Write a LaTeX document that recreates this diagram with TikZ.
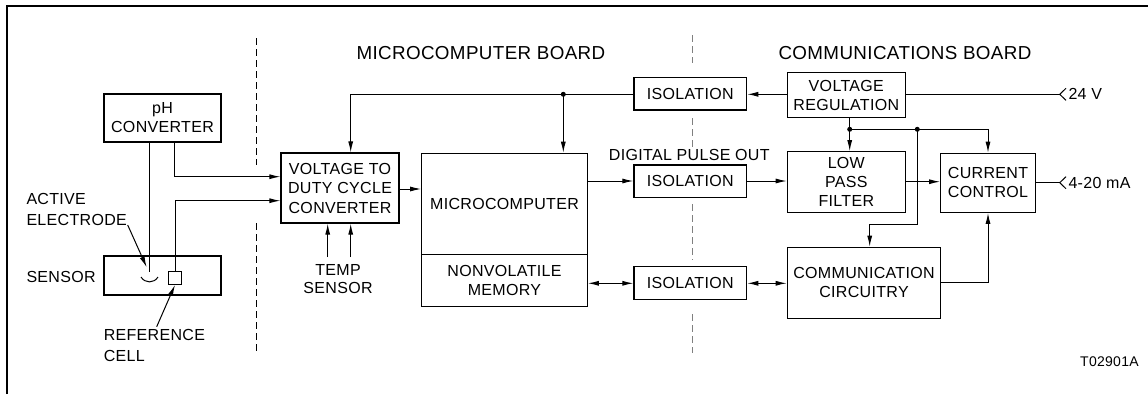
\documentclass[tikz,border=0pt]{standalone}
\usepackage{fontspec}
\setmainfont{Liberation Sans}[LetterSpace=2]
\usetikzlibrary{arrows.meta,calc}
\begin{document}
\begin{tikzpicture}[x=1pt,y=-1pt,
  line width=1pt,
  box/.style={draw, line width=1.2pt, inner sep=0pt, align=center, font=\fontsize{16}{19}\selectfont},
  lbl/.style={inner sep=0pt, align=left, font=\fontsize{16}{20.5}\selectfont},
  hdr/.style={inner sep=0pt, font=\fontsize{18.8}{22}\selectfont},
  arr/.style={-{Latex[length=11pt,width=5pt]}},
  darr/.style={{Latex[length=11pt,width=5pt]}-{Latex[length=11pt,width=5pt]}},
  divider/.style={dash pattern=on 7pt off 4pt, line width=1pt},
  dot/.style={circle, fill, inner sep=0pt, minimum size=5pt}
]
\useasboundingbox (0,0) rectangle (1148,394);
% frame
\draw[line width=1.3pt] (7,394) -- (7,6) -- (1148,6);

% boxes
\node[box, minimum width=117pt, minimum height=48pt] (phconv) at (162.5,118) {pH\\CONVERTER};
\node[box, minimum width=117pt, minimum height=39pt] (sensor) at (162.5,275.5) {};
\node[box, minimum width=118pt, minimum height=70pt, font=\fontsize{16}{19.5}\selectfont] (vdc) at (340,188) {VOLTAGE TO\\DUTY CYCLE\\CONVERTER};
\node[box, minimum width=165.6pt, minimum height=101pt] (micro) at (504.5,203.8) {MICROCOMPUTER};
\node[box, minimum width=165.6pt, minimum height=52pt] (nvm) at (504.5,280.3) {NONVOLATILE\\MEMORY};
\node[box, minimum width=112.7pt, minimum height=32.3pt] (iso1) at (690.3,93.8) {ISOLATION};
\node[box, minimum width=112.7pt, minimum height=32.3pt] (iso2) at (690.3,181.2) {ISOLATION};
\node[box, minimum width=112.7pt, minimum height=32.3pt] (iso3) at (690.3,283) {ISOLATION};
\node[box, minimum width=118pt, minimum height=45.4pt] (vreg) at (846.3,95) {VOLTAGE\\REGULATION};
\node[box, minimum width=118pt, minimum height=60.6pt] (lpf) at (846.3,182) {LOW\\PASS\\FILTER};
\node[box, minimum width=94.6pt, minimum height=59pt] (cc) at (988,182.8) {CURRENT\\CONTROL};
\node[box, minimum width=153.4pt, minimum height=71pt] (comm) at (864,282.8) {COMMUNICATION\\CIRCUITRY};

% sensor internals
\node[draw, line width=1.1pt, minimum size=12.6pt, inner sep=0pt] (refcell) at (175,278) {};
\coordinate (electrode) at (149.7,272);
\draw (141,277) .. controls (145,283.5) and (154,283.5) .. (158,277);

% labels
\node[hdr, anchor=west] (hmicro) at (356,53.3) {MICROCOMPUTER BOARD};
\node[hdr, anchor=west] (hcomm) at (778,53.3) {COMMUNICATIONS BOARD};
\node[lbl] (dpo) at (689.3,155) {DIGITAL PULSE OUT};
\node[lbl, anchor=west] (lactive) at (26,209.7) {ACTIVE\\ELECTRODE};
\node[lbl, anchor=west] (lsensor) at (26,277) {SENSOR};
\node[lbl, anchor=west] (lref) at (103.3,345.7) {REFERENCE\\CELL};
\node[lbl, align=center, font=\fontsize{16}{18.5}\selectfont] (ltemp) at (338,279) {TEMP\\SENSOR};
\node[lbl, anchor=west] (l24) at (1068,94.3) {24 V};
\node[lbl, anchor=west] (l420) at (1068,182.7) {4-20 mA};
\node[inner sep=0pt, anchor=west, font=\fontsize{14}{16}\selectfont] (tag) at (1079.7,361.7) {T02901A};

% dividers
\draw[divider] (256.7,38) -- (256.7,165);
\draw[divider] (256.7,223) -- (256.7,353);
\draw[divider, gray] (692.7,35) -- (692.7,63.3);
\draw[divider, gray] (692.7,118.3) -- (692.7,146.7);
\draw[divider, gray] (692.7,204) -- (692.7,259.3);
\draw[divider, gray] (692.7,314) -- (692.7,353.3);

% sensor side connections
\coordinate (activetail) at (127.7,225);
\coordinate (reftail) at (156.7,326.7);
\draw[arr] (phconv.south -| 174.3,0) |- (vdc.west |- 0,176.7);
\draw (phconv.south -| electrode) -- (electrode);
\draw[arr] (refcell.north) |- (vdc.west |- 0,200.7);
\draw[arr] (activetail) -- (146.7,267.3);
\draw[arr] (reftail) -- (refcell.south);
\draw[arr] (327.7,257) -- (vdc.south -| 327.7,0);
\draw[arr] (350.7,257) -- (vdc.south -| 350.7,0);

% top supply line
\coordinate (j1) at (563.3,94.3);
\draw[arr] (vreg.west |- 0,94.3) -- (iso1.east |- 0,94.3);
\draw[arr] (iso1.west |- 0,94.3) -- (350.7,94.3) -- (vdc.north -| 350.7,0);
\draw[arr] (j1) -- (micro.north -| j1);
\node[dot] at (j1) {};

% data paths
\draw[arr] (vdc.east |- 0,189) -- (micro.west |- 0,189);
\draw[arr] (micro.east |- 0,181) -- (iso2.west |- 0,181);
\draw[arr] (iso2.east |- 0,181) -- (lpf.west |- 0,181);
\draw[arr] (lpf.east |- 0,181.7) -- (cc.west |- 0,181.7);
\draw[darr] (nvm.east |- 0,283.3) -- (iso3.west |- 0,283.3);
\draw[darr] (iso3.east |- 0,283.3) -- (comm.west |- 0,283.3);

% regulation distribution
\coordinate (j2) at (849.7,129.3);
\coordinate (j3) at (917.3,129.3);
\draw (vreg.south -| j2) -- (j2);
\draw[arr] (j2) -- (lpf.north -| j2);
\draw[arr] (j2) -- (988,129.3) -- (cc.north -| 988,0);
\draw[arr] (j3) -- (917.3,224) -- (869.7,224) -- (comm.north -| 869.7,0);
\node[dot] at (j2) {};
\node[dot] at (j3) {};
\draw[arr] (comm.east |- 0,282.3) -- (988,282.3) -- (cc.south -| 988,0);

% external terminals
\coordinate (t24) at (1059.7,94.3);
\coordinate (t420) at (1059.7,182.7);
\draw (vreg.east |- t24) -- (t24);
\draw (1066,88.3) -- (t24) -- (1066,100.3);
\draw (cc.east |- t420) -- (t420);
\draw (1066,176.7) -- (t420) -- (1066,188.7);
\end{tikzpicture}
\end{document}
